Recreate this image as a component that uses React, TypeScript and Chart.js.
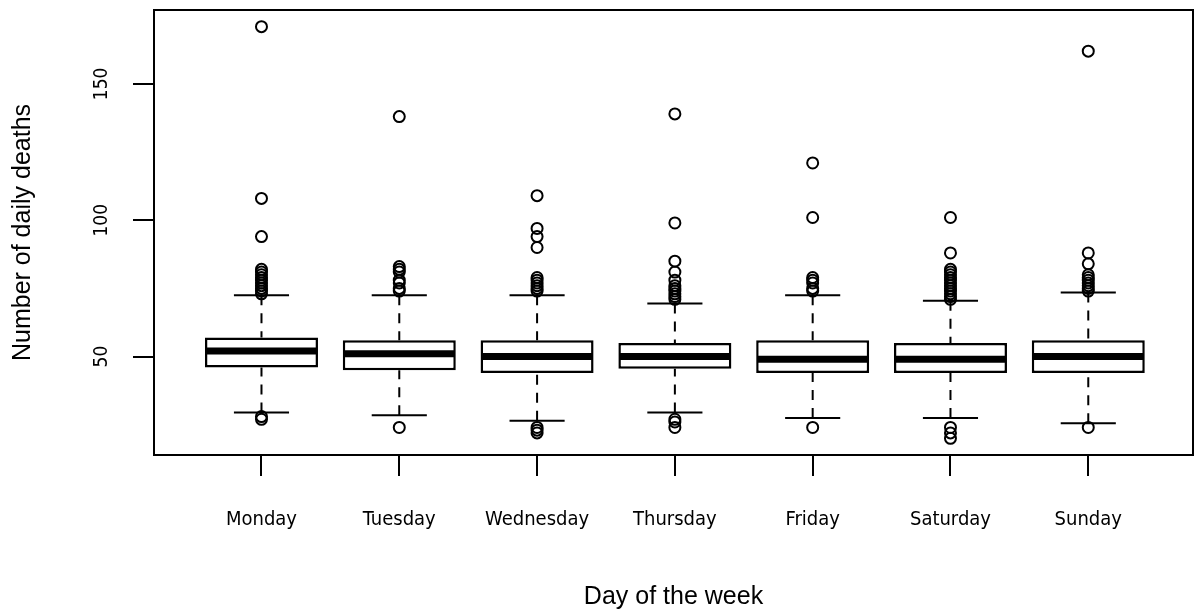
import React, { useEffect, useRef } from 'react';
import { Chart, registerables } from 'chart.js';

Chart.register(...registerables);

// ---- data ----
const days = ['Monday', 'Tuesday', 'Wednesday', 'Thursday', 'Friday', 'Saturday', 'Sunday'];
const whiskerLow = [29.5, 28.5, 26.5, 29.5, 27.5, 27.5, 25.5];
const q1 = [46, 45, 44, 45.5, 44, 44, 44];
const median = [52, 51, 50, 50, 49, 49, 50];
const q3 = [57, 56, 56, 55, 56, 55, 56];
const whiskerHigh = [72.5, 72.5, 72.5, 69.5, 72.5, 70.5, 73.5];

const mondayOutliers = [27, 28, 73, 74, 75, 76, 77, 78, 79, 80, 81, 82, 94, 108, 171];
const tuesdayOutliers = [24, 74, 75, 77, 78, 81, 82, 83, 138];
const wednesdayOutliers = [22, 23, 24, 74, 75, 76, 77, 78, 79, 90, 94, 97, 109];
const thursdayOutliers = [24, 26, 27, 71, 72, 73, 74, 75, 76, 78, 81, 85, 99, 139];
const fridayOutliers = [24, 74, 75, 77, 78, 79, 101, 121];
const saturdayOutliers = [20, 22, 24, 71, 72, 73, 74, 75, 76, 77, 78, 79, 80, 81, 82, 88, 101];
const sundayOutliers = [24, 74, 75, 76, 77, 78, 79, 80, 84, 88, 162];
const outliers = [
  mondayOutliers,
  tuesdayOutliers,
  wednesdayOutliers,
  thursdayOutliers,
  fridayOutliers,
  saturdayOutliers,
  sundayOutliers,
];

const yTicks = [50, 100, 150];
const xTicks = [1, 2, 3, 4, 5, 6, 7];

const xTitle = 'Day of the week';
const yTitle = 'Number of daily deaths';

// ---- style ----
const CAP_HALF = 0.2;
const NARROW = "'DejaVu Sans Condensed', 'Liberation Sans Narrow', 'Liberation Sans', sans-serif";
const SANS = "'Liberation Sans', Arial, sans-serif";

const boxPlugin = {
  id: 'boxWhiskers',
  beforeDatasetsDraw(chart: any) {
    const { ctx } = chart;
    const xs = chart.scales.x;
    const ys = chart.scales.y;
    ctx.save();
    ctx.strokeStyle = '#000';
    ctx.lineWidth = 2;
    ctx.lineCap = 'butt';
    days.forEach((_d, i) => {
      const px = xs.getPixelForValue(xTicks[i]);
      const l = xs.getPixelForValue(xTicks[i] - CAP_HALF);
      const r = xs.getPixelForValue(xTicks[i] + CAP_HALF);
      ctx.setLineDash([10, 8]);
      ctx.beginPath();
      ctx.moveTo(px, ys.getPixelForValue(whiskerHigh[i]));
      ctx.lineTo(px, ys.getPixelForValue(q3[i]));
      ctx.moveTo(px, ys.getPixelForValue(whiskerLow[i]));
      ctx.lineTo(px, ys.getPixelForValue(q1[i]));
      ctx.stroke();
      ctx.setLineDash([]);
      ctx.beginPath();
      ctx.moveTo(l, ys.getPixelForValue(whiskerHigh[i]));
      ctx.lineTo(r, ys.getPixelForValue(whiskerHigh[i]));
      ctx.moveTo(l, ys.getPixelForValue(whiskerLow[i]));
      ctx.lineTo(r, ys.getPixelForValue(whiskerLow[i]));
      ctx.stroke();
    });
    ctx.restore();
  },
  afterDatasetsDraw(chart: any) {
    const { ctx } = chart;
    const ys = chart.scales.y;
    const meta = chart.getDatasetMeta(1);
    ctx.save();
    ctx.strokeStyle = '#000';
    ctx.lineWidth = 7;
    meta.data.forEach((el: any, i: number) => {
      const half = el.width / 2;
      const py = ys.getPixelForValue(median[i]);
      ctx.beginPath();
      ctx.moveTo(el.x - half + 1, py);
      ctx.lineTo(el.x + half - 1, py);
      ctx.stroke();
    });
    ctx.restore();
  },
  afterDraw(chart: any) {
    const { ctx, chartArea } = chart;
    ctx.save();
    ctx.strokeStyle = '#000';
    ctx.lineWidth = 2;
    ctx.strokeRect(chartArea.left, chartArea.top, chartArea.right - chartArea.left, chartArea.bottom - chartArea.top);
    ctx.restore();
  },
};

export default function App() {
  const canvasRef = useRef<HTMLCanvasElement | null>(null);

  useEffect(() => {
    if (!canvasRef.current) return;
    const outlierPoints: { x: number; y: number }[] = [];
    outliers.forEach((list, i) => list.forEach((v) => outlierPoints.push({ x: xTicks[i], y: v })));

    const chart = new Chart(canvasRef.current, {
      type: 'bar',
      data: {
        datasets: [
          {
            type: 'scatter',
            data: outlierPoints,
            pointRadius: 5.5,
            pointHoverRadius: 5.5,
            pointBorderWidth: 2,
            pointBackgroundColor: 'rgba(0,0,0,0)',
            pointBorderColor: '#000',
            showLine: false,
          } as any,
          {
            type: 'bar',
            data: days.map((_d, i) => ({ x: xTicks[i], y: [q1[i], q3[i]] })) as any,
            backgroundColor: '#fff',
            borderColor: '#000',
            borderWidth: 2.5,
            borderSkipped: false,
            barPercentage: 0.82,
            categoryPercentage: 1,
          } as any,
        ],
      },
      options: {
        responsive: false,
        animation: false,
        devicePixelRatio: 1,
        events: [],
        layout: { autoPadding: false, padding: { top: 10, right: 1, left: 0, bottom: 0 } },
        plugins: { legend: { display: false }, tooltip: { enabled: false } },
        scales: {
          x: {
            type: 'linear',
            offset: false,
            min: 0.22,
            max: 7.76,
            afterBuildTicks: (scale: any) => {
              scale.ticks = xTicks.map((v) => ({ value: v }));
            },
            afterFit: (scale: any) => {
              scale.height = 157;
              scale.paddingLeft = 0;
              scale.paddingRight = 0;
            },
            grid: {
              display: true,
              offset: false,
              drawOnChartArea: false,
              drawTicks: true,
              tickLength: 21,
              color: '#000',
              lineWidth: 2,
            },
            border: { display: false },
            ticks: {
              autoSkip: false,
              maxRotation: 0,
              minRotation: 0,
              padding: 32,
              color: '#000',
              font: { family: NARROW, size: 20 },
              callback: (value: any) => days[Number(value) - 1] ?? '',
            },
            title: {
              display: true,
              text: xTitle,
              color: '#000',
              font: { family: SANS, size: 25 },
              padding: { top: 0, bottom: 0 },
            },
          },
          y: {
            type: 'linear',
            min: 13.9,
            max: 177.1,
            afterBuildTicks: (scale: any) => {
              scale.ticks = yTicks.map((v) => ({ value: v }));
            },
            afterFit: (scale: any) => {
              scale.width = 154;
              scale.paddingTop = 0;
              scale.paddingBottom = 0;
            },
            grid: {
              display: true,
              drawOnChartArea: false,
              drawTicks: true,
              tickLength: 21,
              color: '#000',
              lineWidth: 2,
            },
            border: { display: false },
            ticks: {
              autoSkip: false,
              minRotation: 90,
              maxRotation: 90,
              crossAlign: 'center',
              padding: 15,
              color: '#000',
              font: { family: NARROW, size: 19 },
            },
            title: {
              display: true,
              text: yTitle,
              color: '#000',
              font: { family: SANS, size: 25 },
              padding: { top: 8, bottom: 0 },
            },
          },
        },
      } as any,
      plugins: [boxPlugin],
    });
    return () => chart.destroy();
  }, []);

  return (
    <div style={{ position: 'fixed', left: 0, top: 0, width: 1194, height: 612, background: '#fff' }}>
      <canvas ref={canvasRef} width={1194} height={612} style={{ display: 'block', width: 1194, height: 612 }} />
    </div>
  );
}
